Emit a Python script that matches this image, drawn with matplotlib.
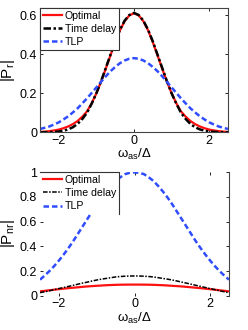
import numpy as np
import matplotlib
matplotlib.use("Agg")
import matplotlib.pyplot as plt

plt.rcParams['font.family'] = ['Liberation Sans', 'DejaVu Sans']
plt.rcParams['mathtext.fontset'] = 'custom'
plt.rcParams['mathtext.rm'] = 'Liberation Sans'
plt.rcParams['mathtext.it'] = 'Liberation Sans'

# detuning grid omega_as/Delta
x = [-2.5, -2.375, -2.25, -2.125, -2.0, -1.875, -1.75, -1.625, -1.5, -1.375, -1.25,
     -1.125, -1.0, -0.875, -0.75, -0.625, -0.5, -0.375, -0.25, -0.125, 0.0,
     0.125, 0.25, 0.375, 0.5, 0.625, 0.75, 0.875, 1.0, 1.125, 1.25,
     1.375, 1.5, 1.625, 1.75, 1.875, 2.0, 2.125, 2.25, 2.375, 2.5]

# top panel |P_r|
pr_opt = [0.002, 0.0035, 0.006, 0.0095, 0.014, 0.021, 0.030, 0.042, 0.058, 0.080, 0.107,
          0.149, 0.200, 0.260, 0.326, 0.395, 0.462, 0.522, 0.569, 0.599, 0.610,
          0.599, 0.569, 0.522, 0.462, 0.395, 0.326, 0.260, 0.200, 0.149, 0.107,
          0.080, 0.058, 0.042, 0.030, 0.021, 0.014, 0.0095, 0.006, 0.0035, 0.002]
pr_delay = [0.000, 0.0005, 0.001, 0.002, 0.004, 0.008, 0.015, 0.026, 0.043, 0.068, 0.100,
            0.147, 0.200, 0.262, 0.330, 0.398, 0.466, 0.525, 0.572, 0.601, 0.612,
            0.601, 0.572, 0.525, 0.466, 0.398, 0.330, 0.262, 0.200, 0.147, 0.100,
            0.068, 0.043, 0.026, 0.015, 0.008, 0.004, 0.002, 0.001, 0.0005, 0.000]
pr_tlp = [0.017, 0.023, 0.030, 0.040, 0.051, 0.066, 0.082, 0.102, 0.123, 0.148, 0.174,
          0.202, 0.230, 0.259, 0.287, 0.313, 0.335, 0.354, 0.368, 0.377, 0.380,
          0.377, 0.368, 0.354, 0.335, 0.313, 0.287, 0.259, 0.230, 0.202, 0.174,
          0.148, 0.123, 0.102, 0.082, 0.066, 0.051, 0.040, 0.030, 0.023, 0.017]

# bottom panel |P_nr|
pnr_opt = [0.035, 0.0396, 0.044, 0.0487, 0.053, 0.057, 0.061, 0.0646, 0.068, 0.0717, 0.075,
           0.0777, 0.080, 0.0826, 0.085, 0.0866, 0.088, 0.089, 0.0895, 0.0899, 0.090,
           0.0899, 0.0895, 0.089, 0.088, 0.0866, 0.085, 0.0826, 0.080, 0.0777, 0.075,
           0.0717, 0.068, 0.0646, 0.061, 0.057, 0.053, 0.0487, 0.044, 0.0396, 0.035]
pnr_delay = [0.025, 0.032, 0.040, 0.049, 0.058, 0.0665, 0.075, 0.084, 0.093, 0.102, 0.110,
             0.119, 0.127, 0.134, 0.140, 0.146, 0.152, 0.1555, 0.158, 0.1595, 0.160,
             0.1595, 0.158, 0.1555, 0.152, 0.146, 0.140, 0.134, 0.127, 0.119, 0.110,
             0.102, 0.093, 0.084, 0.075, 0.0665, 0.058, 0.049, 0.040, 0.032, 0.025]
pnr_tlp = [0.130, 0.163, 0.200, 0.240, 0.285, 0.333, 0.385, 0.440, 0.500, 0.560, 0.620,
           0.680, 0.740, 0.795, 0.845, 0.890, 0.930, 0.960, 0.985, 0.996, 1.000,
           0.996, 0.985, 0.960, 0.930, 0.890, 0.845, 0.795, 0.740, 0.680, 0.620,
           0.560, 0.500, 0.440, 0.385, 0.333, 0.285, 0.240, 0.200, 0.163, 0.130]

labels = ["Optimal", "Time delay", "TLP"]
red = '#ff1010'
blue = '#2f4dff'
edge = '#333333'

fig = plt.figure(figsize=(2.48, 3.30), dpi=100)
ax1 = fig.add_axes([40/248, 1-132.3/330, 188/248, 124.3/330])
ax2 = fig.add_axes([40/248, 1-295.7/330, 189/248, 123.4/330])

def style(ax):
    ax.tick_params(direction='in', top=True, right=True, length=2.5, width=0.6,
                   labelsize=9, pad=2, colors='black')
    for s in ax.spines.values():
        s.set_linewidth(0.8)
        s.set_color('#444444')
    ax.set_xlim(-2.5, 2.5)
    ax.set_xticks([-2, 0, 2])
    ax.set_xlabel(r'ω$_{\mathrm{as}}$/Δ', fontsize=9.5, labelpad=0)

def add_legend(ax):
    leg = ax.legend(loc='upper left', bbox_to_anchor=(0, 1), borderaxespad=0,
                    fontsize=7.6, frameon=True, fancybox=False, handlelength=1.8,
                    handletextpad=0.3, labelspacing=0.3, borderpad=0.25)
    leg.get_frame().set_edgecolor(edge)
    leg.get_frame().set_linewidth(0.8)
    leg.get_frame().set_alpha(1)
    return leg

ax1.plot(x, pr_opt, color=red, lw=1.6, label=labels[0])
ax1.plot(x, pr_delay, color='black', lw=1.8, ls=(0, (3, 1, 1, 1)), label=labels[1])
ax1.plot(x, pr_tlp, color=blue, lw=1.8, ls=(0, (2.2, 1.2)), label=labels[2])
style(ax1)
ax1.set_ylim(0, 0.637)
ax1.set_yticks([0, 0.2, 0.4, 0.6])
ax1.set_yticklabels(['0', '0.2', '0.4', '0.6'])
ax1.set_ylabel(r'|P$_{\mathrm{r}}$|', fontsize=11, labelpad=2)
add_legend(ax1)

ax2.plot(x, pnr_opt, color=red, lw=1.6, label=labels[0])
ax2.plot(x, pnr_delay, color='black', lw=1.1, ls=(0, (3, 1, 1, 1)), label=labels[1])
ax2.plot(x, pnr_tlp, color=blue, lw=1.8, ls=(0, (2.2, 1.2)), label=labels[2])
style(ax2)
ax2.spines['left'].set_visible(False)
ax2.spines['top'].set_visible(False)
ax2.spines['bottom'].set_visible(False)
ax2.set_ylim(0, 1)
ax2.set_yticks([0, 0.2, 0.4, 0.6, 0.8, 1])
ax2.set_yticklabels(['0', '0.2', '0.4', '0.6', '0.8', '1'])
ax2.set_ylabel(r'|P$_{\mathrm{nr}}$|', fontsize=11, labelpad=2)
leg2 = add_legend(ax2)
# bottom legend box only shows its top and right edges
leg2.get_frame().set_edgecolor('none')
fig.canvas.draw()
bb = leg2.get_window_extent().transformed(ax2.transAxes.inverted())
ax2.plot([bb.x0, bb.x1, bb.x1], [1, 1, bb.y0], transform=ax2.transAxes,
         color=edge, lw=0.8, clip_on=False, zorder=10)

fig.savefig("out.png", dpi=100)
